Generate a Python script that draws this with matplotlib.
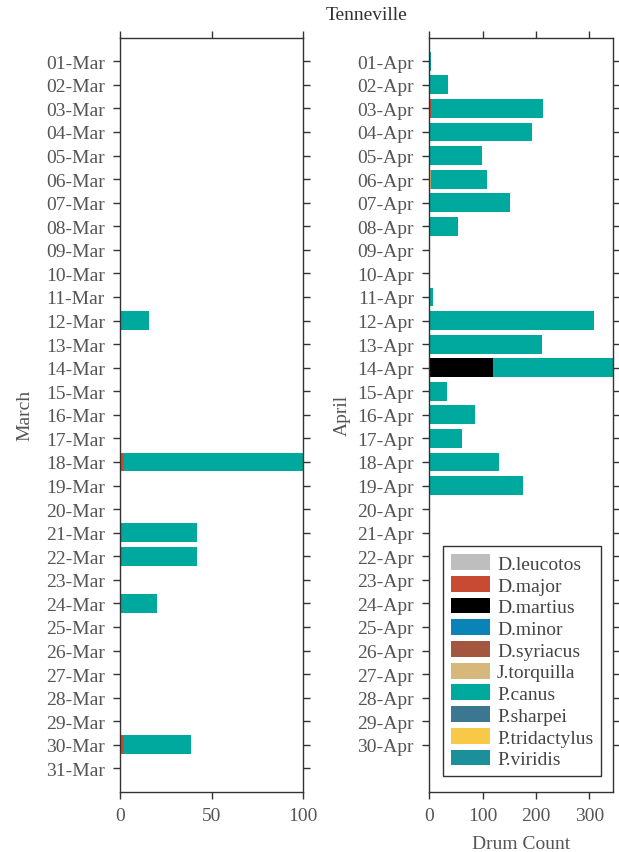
import numpy as np
import matplotlib
matplotlib.use("Agg")
import matplotlib.pyplot as plt
from matplotlib.patches import Patch

plt.rcParams['font.family'] = ['Liberation Serif', 'DejaVu Serif']

species = ["D.leucotos", "D.major", "D.martius", "D.minor", "D.syriacus",
           "J.torquilla", "P.canus", "P.sharpei", "P.tridactylus", "P.viridis"]
colors = ["#bebebe", "#c94a32", "#000000", "#0a84b8", "#a4573f",
          "#d6b87a", "#00a99d", "#3b7791", "#f8c946", "#1b8f9a"]

march_days = [f"{d:02d}-Mar" for d in range(1, 32)]
april_days = [f"{d:02d}-Apr" for d in range(1, 31)]

# Daily drum counts per species (only species with non-zero counts listed)
march_counts = {
    "D.major": [0, 0, 0, 0, 0, 0, 0, 0, 0, 0, 0, 0, 0, 0, 0, 0, 0, 2, 0, 0,
                1, 1, 0, 0, 0, 0, 0, 0, 0, 2, 0],
    "P.canus": [0, 0, 0, 0, 0, 0, 0, 0, 0, 0, 0, 16, 0, 0, 0, 0, 0, 98, 0, 0,
                41, 41, 0, 20, 0, 0, 0, 0, 0, 37, 0],
}
april_counts = {
    "D.major": [0, 0, 3, 0, 0, 0, 0, 0, 0, 0, 0, 0, 0, 0, 0, 0, 0, 0, 0, 0,
                0, 0, 0, 0, 0, 0, 0, 0, 0, 0],
    "D.martius": [0, 0, 0, 0, 0, 0, 0, 0, 0, 0, 0, 0, 0, 119, 0, 0, 0, 0, 0, 0,
                  0, 0, 0, 0, 0, 0, 0, 0, 0, 0],
    "J.torquilla": [0, 0, 0, 0, 0, 3, 0, 0, 0, 0, 0, 0, 0, 0, 0, 0, 0, 0, 0, 0,
                    0, 0, 0, 0, 0, 0, 0, 0, 0, 0],
    "P.canus": [3, 35, 211, 192, 99, 106, 151, 54, 0, 0, 7, 308, 211, 225, 33,
                85, 61, 130, 175, 0, 0, 0, 0, 0, 0, 0, 0, 0, 0, 0],
}

march_xticks = [0, 50, 100]
april_xticks = [0, 100, 200, 300]

W, H = 619, 853
fig = plt.figure(figsize=(W / 100, H / 100), dpi=100)
top = 1 - 38.7 / H
bottom = 1 - 793 / H
ax1 = fig.add_axes([120 / W, bottom, (303 - 120) / W, top - bottom])
ax2 = fig.add_axes([429.3 / W, bottom, (612.7 - 429.3) / W, top - bottom])

label_color = "#555555"
spine_color = "#333333"


def draw_panel(ax, days, counts, xticks, ylabel, ylabelpad):
    y = np.arange(len(days))
    left = np.zeros(len(days))
    for sp, col in zip(species, colors):
        vals = np.array(counts.get(sp, [0] * len(days)), dtype=float)
        ax.barh(y, vals, left=left, height=0.8, color=col, linewidth=0)
        left += vals
    ax.set_xlim(0, left.max())
    ax.set_ylim(31, -1)
    ax.set_yticks(y)
    ax.set_yticklabels(days)
    ax.set_xticks(xticks)
    ax.tick_params(axis="both", which="both", direction="out", length=5,
                   width=1, color=spine_color, labelcolor=label_color,
                   labelsize=14, top=True, right=True, pad=6)
    for s in ax.spines.values():
        s.set_color(spine_color)
        s.set_linewidth(1)
    ax.set_ylabel(ylabel, fontsize=14, color=label_color, labelpad=ylabelpad)


draw_panel(ax1, march_days, march_counts, march_xticks, "March", 9)
draw_panel(ax2, april_days, april_counts, april_xticks, "April", 5)
ax2.set_xlabel("Drum Count", fontsize=14, color=label_color, labelpad=8)

handles = [Patch(facecolor=c, edgecolor="none", label=s) for s, c in zip(species, colors)]
leg = ax2.legend(handles=handles, loc="lower right",
                 bbox_to_anchor=(0.936, 0.0212), borderaxespad=0,
                 fontsize=14, frameon=True, fancybox=False, framealpha=1,
                 edgecolor=spine_color, handlelength=2.0, handleheight=0.87,
                 labelspacing=0.16, borderpad=0.4, handletextpad=0.35)
for t in leg.get_texts():
    t.set_color("#444444")

fig.text((120 + 612.7) / 2 / W, 1 - 15 / H, "Tenneville", ha="center", va="center",
         fontsize=14, color="#333333")

fig.savefig("out.png", dpi=100)
